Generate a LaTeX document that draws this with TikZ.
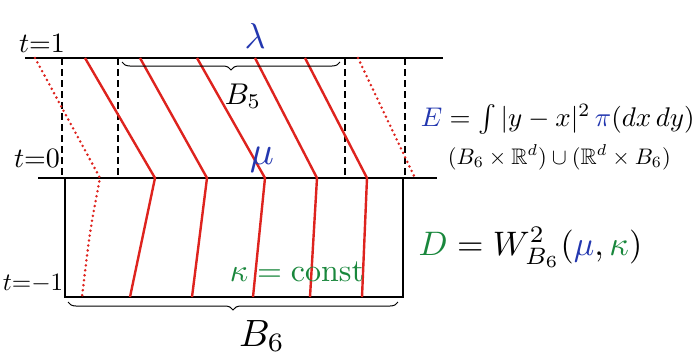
\documentclass[tikz,border=0pt]{standalone}
\usepackage{amsmath,amssymb}
\usetikzlibrary{positioning, decorations.pathreplacing}
\definecolor{penred}{RGB}{222,35,30}
\definecolor{penblue}{RGB}{35,55,175}
\definecolor{pengreen}{RGB}{25,135,60}

\begin{document}
\begin{tikzpicture}[x=1pt, y=-1pt, line width=1.3pt,
    rline/.style={penred, line width=2.4pt},
    rdot/.style={penred, line width=2.8pt, line cap=round, dash pattern=on 0pt off 5pt},
    dline/.style={dash pattern=on 7pt off 4pt, line width=1.2pt},
    brc/.style={decorate, decoration={brace, mirror, amplitude=8pt}, line width=1pt},
    lbl/.style={scale=2.8}]
    \useasboundingbox (0,0) rectangle (695,357);

    % time levels
    \draw (25,58) -- (443,58);
    \draw (38,178) -- (437,178);
    \draw (65,178) rectangle (403,297);
    \node[lbl] (t1) at (42,43) {$t{=}1$};
    \node[lbl] (t0) at (37,158) {$t{=}0$};
    \node[scale=2.5] (tm1) at (33,283) {$t{=}{-1}$};

    % dashed verticals
    \draw[dline] (62,58) -- (62,178);
    \draw[dline] (118,58) -- (118,178);
    \draw[dline] (345,58) -- (345,178);
    \draw[dline] (405,58) -- (405,178);

    % red paths
    \foreach \i/\a/\b/\c in {1/85/155/130, 2/140/207/192, 3/197/265/253, 4/255/317/310, 5/305/367/362} {
        \coordinate (top\i) at (\a,58);
        \coordinate (mid\i) at (\b,178);
        \coordinate (bot\i) at (\c,297);
        \draw[rline] (top\i) -- (mid\i) -- (bot\i);
    }
    \draw[rdot] (35,58) -- (100,178) .. controls (90,230) .. (82,297);
    \draw[rdot] (358,58) -- (415,178);

    % braces
    \draw[brc] (122,62) -- (340,62);
    \node[scale=3] (b5) at (243,96) {$B_5$};
    \draw[brc] (68,302) -- (398,302);
    \node[scale=3.8] (b6) at (262,336) {$B_6$};

    % measures
    \node[scale=3.6, penblue] (lam) at (255,36) {$\lambda$};
    \node[scale=4, penblue] (mu) at (262,160) {$\mu$};
    \node[scale=3.2, pengreen] (kap) at (297,272) {$\kappa = \mathrm{const}$};

    % formulas
    \node[scale=2.7, anchor=base west] (E) at (410,126)
        {$\textcolor{penblue}{E} = \int |y-x|^2\, \textcolor{penblue}{\pi}(dx\,dy)$};
    \node[scale=2.25, anchor=north west] (dom) at (439,136)
        {$(B_6\times\mathbb{R}^d)\cup(\mathbb{R}^d\times B_6)$};
    \node[scale=3.4, anchor=base west] (D) at (405,255)
        {$\textcolor{pengreen}{D} = W^2_{B_6}(\textcolor{penblue}{\mu},\textcolor{pengreen}{\kappa})$};
\end{tikzpicture}
\end{document}
